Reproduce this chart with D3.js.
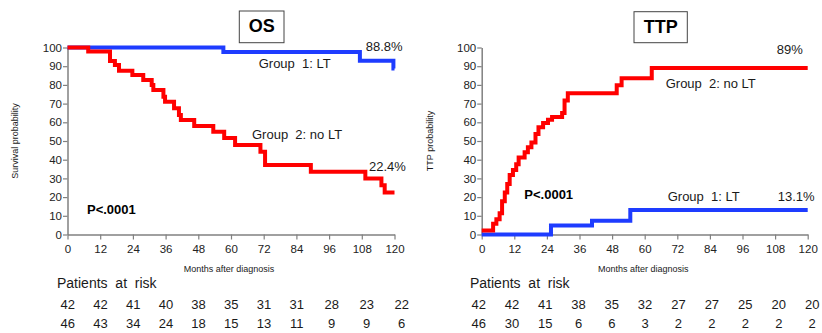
<!DOCTYPE html>
<html>
<head>
<meta charset="utf-8">
<script src="https://cdn.jsdelivr.net/npm/d3@7/dist/d3.min.js"></script>
<style>
  html, body { margin: 0; padding: 0; background: #fff; }
  svg { display: block; font-family: "Liberation Sans", Arial, sans-serif; }
  text { white-space: pre; }
</style>
</head>
<body>
<svg id="chart" width="822" height="333"></svg>
<script>
// Kaplan–Meier step curves: [month, percent]
const osLT = [[0,100],[57.2,97.6],[107.3,92.9],[119.6,88.8],[120,88.8]];
const osNoLT = [[0,100],[7.6,97.8],[15.6,92.8],[17.4,90.6],[18.9,87.6],[23.8,85.3],[27.8,82.6],
  [30.9,80.0],[31.5,77.3],[35.2,73.7],[35.8,71.0],[39.1,67.5],[40.9,63.9],[41.6,61.2],[46.5,58.0],
  [53.5,55.0],[57.5,51.6],[61.5,47.9],[70.8,44.3],[72.5,37.2],[89.3,33.6],[109.3,30.0],[115.2,26.3],
  [116.4,22.4],[120,22.4]];
const ttpLT = [[0,0],[25.5,4.8],[40.6,7.3],[54.7,13.1],[120,13.1]];
const ttpNoLT = [[0,2.2],[4.2,5.8],[5.4,8.2],[6.6,11.3],[7.5,17.8],[8.5,22.4],[9.4,27.0],[10.3,31.8],
  [11.5,34.5],[12.7,37.6],[13.6,41.2],[15.8,44.0],[17.0,46.6],[18.3,49.2],[19.8,53.8],[20.9,57.4],
  [22.6,59.6],[24.4,61.4],[25.9,62.8],[29.6,65.0],[30.5,71.7],[31.7,75.6],[49.7,79.8],[51.5,83.5],
  [62.6,89.0],[120,89.0]];

// Axis ticks
const monthTicks = [0,12,24,36,48,60,72,84,96,108,120];
const pctTicks = [0,10,20,30,40,50,60,70,80,90,100];

// Numbers at risk (Group 1: LT, Group 2: no LT)
const osRiskLT = [42,42,41,40,38,35,31,31,28,23,22];
const osRiskNoLT = [46,43,34,24,18,15,13,11,9,9,6];
const ttpRiskLT = [42,42,41,38,35,32,27,27,25,20,20];
const ttpRiskNoLT = [46,30,15,6,6,3,2,2,2,2,2];

const BLUE = "#1e3cff", RED = "#ff0000", AXIS = "#808080", INK = "#1a1a1a";

const svg = d3.select("#chart");

function panel(cfg) {
  const g = svg.append("g");
  const x = d3.scaleLinear().domain([0,120]).range([cfg.x0, cfg.x1]);
  const y = d3.scaleLinear().domain([0,100]).range([234.5, 47.5]);

  // title box
  const tb = g.append("g");
  tb.append("rect").attr("x", cfg.box[0]).attr("y", cfg.box[1])
    .attr("width", cfg.box[2]).attr("height", cfg.box[3])
    .attr("fill", "#fff").attr("stroke", "#444").attr("stroke-width", 1);
  tb.append("text").attr("x", cfg.box[0] + cfg.box[2]/2).attr("y", cfg.box[1] + 21.3)
    .attr("text-anchor", "middle").attr("font-size", 18).attr("font-weight", "bold")
    .attr("fill", "#000").text(cfg.title);

  // axes
  const xa = g.append("g").attr("transform", `translate(0,${y(0)})`)
    .call(d3.axisBottom(x).tickValues(monthTicks).tickSize(5).tickSizeOuter(0).tickPadding(5));
  const ya = g.append("g").attr("transform", `translate(${x(0)},0)`)
    .call(d3.axisLeft(y).tickValues(pctTicks).tickSize(4.5).tickSizeOuter(0).tickPadding(1));
  [xa, ya].forEach(a => {
    a.select(".domain").attr("stroke", AXIS).attr("stroke-width", 1.5);
    a.selectAll(".tick line").attr("stroke", AXIS).attr("stroke-width", 1.2);
    a.selectAll(".tick text").attr("fill", "#222").attr("font-size", 11.5)
      .attr("font-family", "Liberation Sans, Arial, sans-serif");
  });

  // axis titles
  g.append("text").attr("x", cfg.xTitleX).attr("y", 272).attr("text-anchor", "middle")
    .attr("font-size", 9).attr("fill", INK).text("Months after diagnosis");
  g.append("text").attr("transform", `translate(${cfg.yTitleX},141) rotate(-90)`)
    .attr("text-anchor", "middle").attr("font-size", 9).attr("fill", INK).text(cfg.yTitle);

  // curves
  const line = d3.line().x(d => x(d[0])).y(d => y(d[1])).curve(d3.curveStepAfter);
  g.append("path").datum(cfg.lt).attr("d", line).attr("fill", "none")
    .attr("stroke", BLUE).attr("stroke-width", 4);
  g.append("path").datum(cfg.noLt).attr("d", line).attr("fill", "none")
    .attr("stroke", RED).attr("stroke-width", 4);

  // annotations
  cfg.labels.forEach(l => {
    g.append("text").attr("x", l[0]).attr("y", l[1]).attr("font-size", 13)
      .attr("font-weight", l[3] ? "bold" : null).attr("fill", l[3] ? "#000" : INK).text(l[2]);
  });

  // numbers at risk
  g.append("text").attr("x", cfg.riskX).attr("y", 288.3).attr("font-size", 14)
    .attr("fill", INK).text("Patients  at  risk");
  const col = d3.scaleLinear().domain(cfg.colDomain).range(cfg.colRange);
  [[cfg.riskLT, 309.3], [cfg.riskNoLT, 328.3]].forEach(([vals, yy]) => {
    g.append("g").selectAll("text").data(vals).join("text")
      .attr("x", (d, i) => col(monthTicks[i])).attr("y", yy)
      .attr("text-anchor", "middle").attr("font-size", 13).attr("fill", INK).text(d => d);
  });
}

panel({
  title: "OS", box: [239.3, 11, 44.7, 31.7],
  x0: 67.5, x1: 394.5, xTitleX: 229, yTitleX: 18, yTitle: "Survival probability",
  lt: osLT, noLt: osNoLT,
  labels: [[365.7, 50.7, "88.8%"], [258.7, 68.3, "Group  1: LT"], [252, 139, "Group  2: no LT"],
           [369, 170.7, "22.4%"], [87, 214.3, "P<.0001", true]],
  riskX: 57, riskLT: osRiskLT, riskNoLT: osRiskNoLT,
  colDomain: [0, 84, 120], colRange: [67.8, 296.7, 401.7]
});

panel({
  title: "TTP", box: [634, 11.7, 53.3, 31],
  x0: 481.7, x1: 807.7, xTitleX: 643.3, yTitleX: 433, yTitle: "TTP probability",
  lt: ttpLT, noLt: ttpNoLT,
  labels: [[776.7, 54.3, "89%"], [665.7, 87.7, "Group  2: no LT"], [524.3, 199.3, "P<.0001", true],
           [667.7, 201, "Group  1: LT"], [777.7, 201, "13.1%"]],
  riskX: 470, riskLT: ttpRiskLT, riskNoLT: ttpRiskNoLT,
  colDomain: [0, 60, 120], colRange: [478.8, 645, 812.2]
});
</script>
</body>
</html>
